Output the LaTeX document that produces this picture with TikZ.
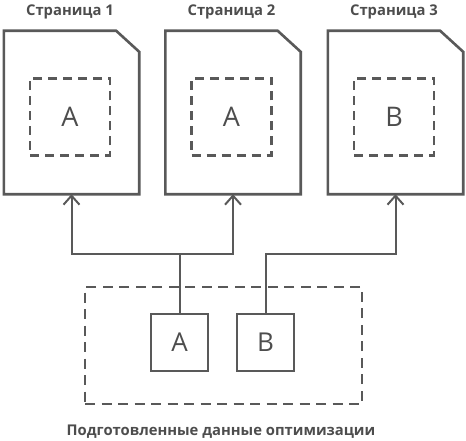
\documentclass[tikz,border=0pt]{standalone}
\usepackage{fontspec}
\setmainfont{Open Sans}
\usepackage{tikz}
\usetikzlibrary{arrows.meta}
\definecolor{ink}{HTML}{595959}
\definecolor{txt}{HTML}{4D4D4D}

\begin{document}
\begin{tikzpicture}[x=1pt,y=-1pt]
\tikzset{page/.style={minimum width=135pt,minimum height=163pt,inner sep=0pt},
    slot/.style={draw=ink,line width=2.6pt,dash pattern=on 9pt off 6pt,minimum width=80pt,minimum height=77pt,inner sep=0pt,text=txt,font=\fontsize{27}{29}\selectfont},
    part/.style={draw=ink,line width=2.6pt,minimum size=57pt,inner sep=0pt,text=txt,font=\fontsize{26}{28}\selectfont},
    title/.style={text=txt,font=\bfseries\fontsize{14.8}{16}\selectfont},
    conn/.style={draw=ink,line width=2pt,-{Straight Barb[length=9pt,width=16pt,line width=2pt]}}}
\useasboundingbox (0,0) rectangle (466,441);
% three result pages, each with its slot of optimised data
\foreach \n/\x/\d in {1/71.5/A,2/233/A,3/395.5/B}{
    \node[page] (p\n) at (\x,112.5) {};
    \draw[ink,line width=2.6pt,line join=miter] (p\n.south west) -- (p\n.north west) -- ([xshift=-23pt]p\n.north east)
        -- ([yshift=-21pt]p\n.north east) -- (p\n.south east) -- cycle;
    \node[slot] (s\n) at (\x-1.5,117) {\d};
    \node[title] (t\n) at (\x-1.5,12) {Страница \n};
}
% the prepared data
\node[draw=ink,line width=2.6pt,dash pattern=on 10pt off 6.5pt,minimum width=277pt,minimum height=117pt,inner sep=0pt] (grp) at (223.5,345.5) {};
\node[part] (a) at (179.5,342.5) {A};
\node[part] (b) at (265.5,342.5) {B};
\node[title] (cap) at (221,432) {Подготовленные данные оптимизации};
\coordinate (ja) at (179.5,254);
\coordinate (jb) at (265.5,254);
\draw[conn] (a.north) -- (ja) -| (p1.south);
\draw[conn] (ja) -| (p2.south);
\draw[conn] (b.north) -- (jb) -| (p3.south);
\end{tikzpicture}
\end{document}
